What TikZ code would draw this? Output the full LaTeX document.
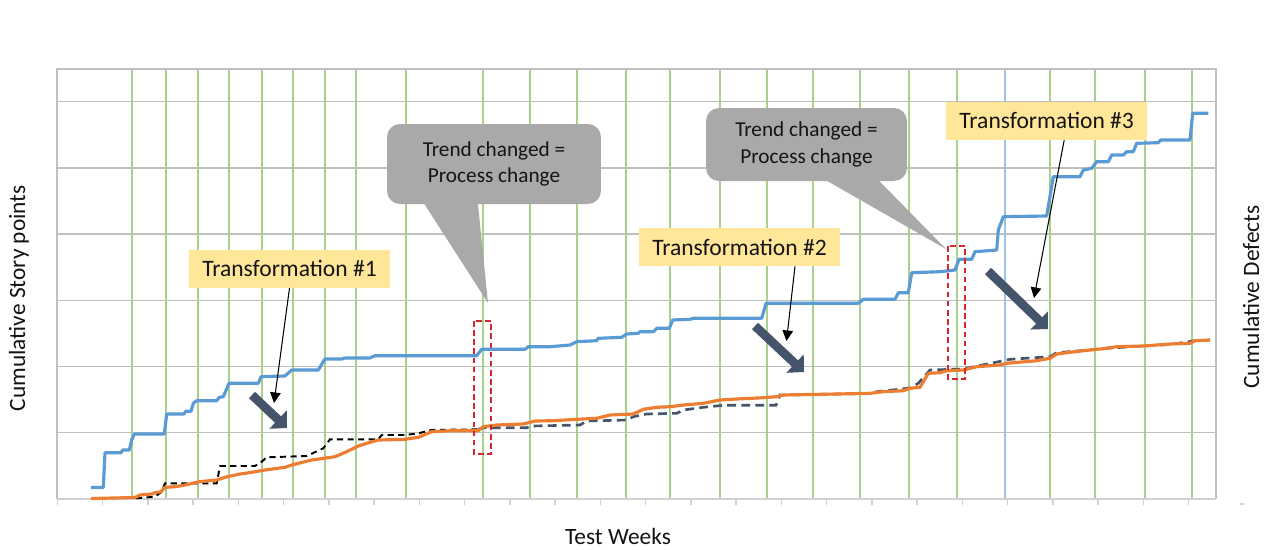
\documentclass[tikz,border=0pt]{standalone}
\usepackage{fontspec}
\setmainfont{Carlito}
\usetikzlibrary{arrows.meta,calc}
\definecolor{gridgray}{HTML}{BFBFBF}
\definecolor{axisgray}{HTML}{D0D0D0}
\definecolor{gridgreen}{HTML}{A9D18E}
\definecolor{gridblue}{HTML}{9DC3E6}
\definecolor{curveblue}{HTML}{5B9BD5}
\definecolor{curveorange}{HTML}{ED7D31}
\definecolor{darkslate}{HTML}{44546A}
\definecolor{labelyellow}{HTML}{FFE699}
\definecolor{calloutgray}{HTML}{A9A9A9}
\definecolor{markred}{HTML}{D9262A}
\definecolor{txt}{HTML}{141414}
\begin{document}
\begin{tikzpicture}[x=0.02cm,y=-0.02cm,
  hgrid/.style={draw=gridgray,line width=0.7pt},
  vgrid/.style={draw=gridgreen,line width=0.7pt},
  vgridblue/.style={draw=gridblue,line width=0.7pt},
  frameline/.style={draw=gridgray,line width=0.8pt},
  axisline/.style={draw=axisgray,line width=0.8pt},
  bluecurve/.style={draw=curveblue,line width=1.8pt,line join=round},
  orangecurve/.style={draw=curveorange,line width=1.8pt,line join=round},
  blackdash/.style={draw=black,line width=1.1pt,dash pattern=on 3.5pt off 2.5pt},
  slatedash/.style={draw=darkslate,line width=1.5pt,dash pattern=on 5pt off 3pt},
  redbox/.style={draw=markred,line width=0.9pt,dash pattern=on 3.2pt off 2pt},
  calloutbox/.style={fill=calloutgray,rounded corners=0.26cm,inner sep=0pt,align=center,
    text=txt,font=\fontsize{12.1}{15.2}\selectfont},
  labelbox/.style={fill=labelyellow,inner sep=0pt,minimum width=4.02cm,minimum height=0.76cm,
    text=txt,font=\fontsize{13.4}{16}\selectfont},
  axtitle/.style={text=txt,font=\fontsize{13.3}{16}\selectfont,inner sep=0pt},
  thinarrow/.style={draw=black,line width=0.6pt,-{Triangle[length=6pt,width=6pt]}},
  blockarrow/.style={draw=darkslate,line width=5pt,-{Triangle[length=7pt,width=14pt]}}
]
\useasboundingbox (0,0) rectangle (1269,549);
\fill[white] (0,0) rectangle (1269,549);

% grid
\foreach \y in {101.7,167.9,234.1,300.3,366.5,432.7}
  \draw[hgrid] (57,\y) -- (1216,\y);
\foreach \x in {132,166,198,229,262,293,325,356,406,483,530,577,626,670,720,767,813,860,909,957,1050,1095,1145,1192}
  \draw[vgrid] (\x,69) -- (\x,499);
\draw[vgridblue] (1005,69) -- (1005,499);
\draw[frameline] (57,499) -- (57,69) -- (1216,69) -- (1216,499);
\draw[axisline] (57,499) -- (1216,499);
\foreach \k in {0,...,25}
  \draw[axisline] ({57.3+45.25*\k},499) -- ++(0,6);
\draw[axisline] (1240,504) -- (1244,504);

% curves
\draw[bluecurve] plot coordinates {(91,487.5) (103.3,487.5) (105,452.7) (121,452.7) (122.7,450) (129.3,450) (131.7,440) (134.3,434) (164.3,434) (166.7,414) (184,414) (185.7,411.3) (191,411.3) (193.3,403.3) (196.7,400.7) (216.7,400.7) (219.3,397.3) (223.3,396.7) (229,383.3) (258.3,383.3) (261,376.7) (285,376) (291.7,370) (318.3,370) (322.3,363.3) (325,359) (341.7,359) (345,358) (370,358) (375,355.7) (476.7,355.7) (481.7,349.3) (525,349.3) (528.3,346.7) (550,346.7) (570,345) (576.7,341.7) (596.7,340.7) (598.3,338.3) (621.7,337.3) (626.7,334) (638.3,333.3) (640,331.7) (653.3,331.7) (656.7,328.3) (669.3,328.3) (672.7,320) (690,319.3) (693.3,318.3) (761.7,318.3) (766,303.3) (858.3,303.3) (863.3,299.3) (895,299.3) (898.3,292.7) (908.3,292.7) (911.7,272.7) (940,271.7) (955,270) (959,259.3) (971.7,259.3) (975,251.7) (996.7,250) (998.3,230) (1003.3,216.7) (1046.7,216) (1053.3,176.7) (1080,176.7) (1083.3,170) (1091.7,168.3) (1096.7,161.7) (1108.3,161.7) (1111.7,155) (1123.3,155) (1126.7,151.7) (1133.3,151.7) (1136.7,143.3) (1158.3,142.7) (1160.7,140) (1190,140) (1192.7,113.3) (1208.3,113.3)};

\draw[blackdash] plot coordinates {(136,498.3) (155,496.7) (161.7,491.7) (165,483.3) (216.7,483.3) (220,466) (255,466) (261.7,461.7) (266.7,457.3) (306.7,456) (323.3,448.3) (330,439.3) (378.3,439.3) (381.7,435) (405,435) (418.3,433.3) (431.7,430) (478,429.3)};

\draw[slatedash] plot coordinates {(478,429.3) (483.3,427.7) (526.7,427.7) (531.7,426) (580,425) (586.7,421) (626.7,420) (633.3,416.7) (646.7,414) (676.7,413.3) (683.3,410) (703.3,407.3) (723.3,405.3) (776,405.3) (780,395) (870,393.5) (876.7,391.7) (910,388) (918.3,383.3) (930,370) (946,369.5) (963,369) (1003.3,360.7) (1010,359.3) (1050,356.7) (1056.7,352.7) (1083,350.5) (1103,348.5) (1143,346) (1170,344.5) (1193.3,341) (1210,340)};

\draw[orangecurve] plot coordinates {(91,498.5) (135,497.5) (140,495) (151.7,494) (155,492.7) (161,491.7) (165,487.3) (175,486.7) (185,485) (195,482.7) (200,481.7) (216.7,480) (225,477.3) (238.3,474.3) (251.7,472.3) (265,470) (285,467.3) (291.7,465) (311.7,460) (335,456.7) (346.7,451.7) (358.3,446) (366.7,443.3) (378.3,440) (405,439.3) (418.3,437.3) (431.7,431.7) (451.7,430.7) (478.3,430.7) (483.3,426.7) (496.7,425) (523.3,424) (535,421) (553.3,420.7) (576.7,419.3) (596.7,418.3) (610,415) (633.3,414) (643.3,409.3) (656.7,407.3) (670,406.7) (683.3,405) (703.3,403.3) (720,400) (736.7,399) (763.3,397.7) (776.7,396.7) (783.3,395) (836.7,394) (870,393.3) (883.3,391.7) (903.3,390.7) (910,388.3) (920,387.3) (928.3,373.3) (940,372.7) (946.7,370.7) (963.3,370) (976.7,366.7) (1000,365) (1006.7,363.3) (1036.7,360.7) (1050,358.3) (1056.7,354) (1066.7,352.7) (1083.3,350.7) (1103.3,348.7) (1116.7,346.7) (1143.3,346) (1170,344) (1190,343.3) (1195,340.7) (1210,340)};

% red dashed marks
\draw[redbox] (474,321) rectangle (491,454);
\draw[redbox] (948,246) rectangle (965,379);

% callouts
\node[calloutbox,minimum width=4.28cm,minimum height=1.6cm] (c1) at (494,164) {Trend changed =\\Process change};
\coordinate (c1tip) at (488,303);
\fill[calloutgray] ($(c1.south west)+(36,-3)$) -- (c1tip) -- ($(c1.south west)+(91,-3)$) -- cycle;

\node[calloutbox,minimum width=4.02cm,minimum height=1.46cm] (c2) at (806.5,144.5) {Trend changed =\\Process change};
\coordinate (c2tip) at (946,249);
\fill[calloutgray] ($(c2.south west)+(117,-3)$) -- (c2tip) -- ($(c2.south west)+(171,-3)$) -- cycle;

% labels
\node[labelbox] (t1) at (289.5,268.7) {Transformation \#1};
\node[labelbox] (t2) at (739.5,247) {Transformation \#2};
\node[labelbox] (t3) at (1046.7,120.8) {Transformation \#3};

\coordinate (a1) at (274,403);
\coordinate (a2) at (786.5,341);
\coordinate (a3) at (1034,298);
\draw[thinarrow] (t1.south) -- (a1);
\draw[thinarrow] ([xshift=1.11cm]t2.south) -- (a2);
\draw[thinarrow] ([xshift=0.35cm]t3.south) -- (a3);

% block arrows
\coordinate (b1s) at (252,395);
\coordinate (b1e) at (287,428);
\coordinate (b2s) at (755,326);
\coordinate (b2e) at (804,372);
\coordinate (b3s) at (988,271);
\coordinate (b3e) at (1048,329);
\draw[blockarrow] (b1s) -- (b1e);
\draw[blockarrow] (b2s) -- (b2e);
\draw[blockarrow] (b3s) -- (b3e);

% axis titles
\node[axtitle,rotate=90] (ylab) at (19,298) {Cumulative Story points};
\node[axtitle,rotate=90] (y2lab) at (1251,297) {Cumulative Defects};
\node[axtitle] (xlab) at (618,536) {Test Weeks};
\end{tikzpicture}
\end{document}
